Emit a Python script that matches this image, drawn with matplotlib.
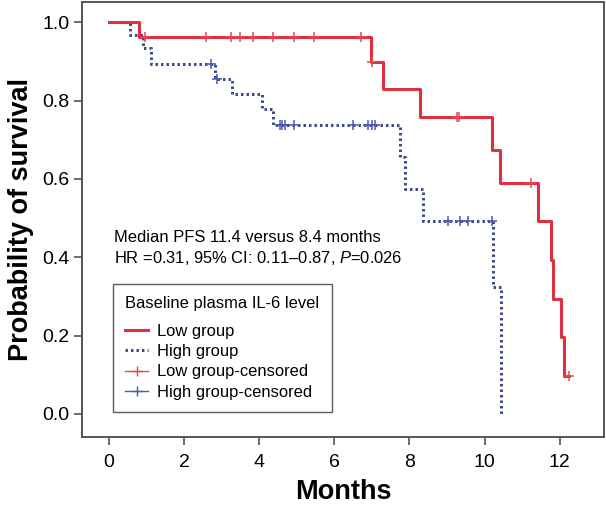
import numpy as np
import matplotlib
matplotlib.use("Agg")
import matplotlib.pyplot as plt
from matplotlib.lines import Line2D

plt.rcParams['font.family'] = ['Liberation Sans', 'DejaVu Sans']
plt.rcParams['mathtext.fontset'] = 'custom'
plt.rcParams['mathtext.rm'] = 'Liberation Sans'
plt.rcParams['mathtext.it'] = 'Liberation Sans:italic'

# Kaplan-Meier steps
low_t = [0, 0.8, 6.97, 7.31, 8.29, 10.2, 10.41, 11.42, 11.77, 11.83, 12.03, 12.11, 12.25]
low_s = [1.0, 0.962, 0.898, 0.829, 0.759, 0.674, 0.590, 0.492, 0.392, 0.294, 0.196, 0.097, 0.097]
low_cens = [0.95, 2.58, 3.25, 3.49, 3.83, 4.36, 4.93, 5.46, 6.70, 7.0, 9.26, 9.33, 11.23, 12.25]

high_t = [0, 0.56, 0.9, 1.12, 2.82, 3.29, 4.07, 4.37, 7.75, 7.88, 8.35, 10.23, 10.44]
high_s = [1.0, 0.968, 0.935, 0.893, 0.856, 0.817, 0.779, 0.738, 0.657, 0.575, 0.493, 0.325, 0.0]
high_cens = [2.71, 2.87, 4.55, 4.62, 4.69, 4.93, 6.51, 6.9, 7.0, 7.08, 9.03, 9.35, 9.55, 10.21]

xticks = [0, 2, 4, 6, 8, 10, 12]
yticks = [0.0, 0.2, 0.4, 0.6, 0.8, 1.0]

red = '#e0303f'
blue = '#3d4a85'


def surv_at(times, surv, t):
    i = np.searchsorted(times, t, side='right') - 1
    return np.array(surv)[i]


fig = plt.figure(figsize=(6.06, 5.05), dpi=100)
ax = fig.add_axes([0.136, 0.134, 0.86, 0.862])

ax.step(low_t, low_s, where='post', color=red, lw=2.2, zorder=3)
ax.step(high_t, high_s, where='post', color=blue, lw=2.2, ls=(0, (0.8, 1.0)), zorder=2)
ax.plot(low_cens, surv_at(low_t, low_s, low_cens), '+', color='#e04a55', ms=7, mew=1.1, zorder=4)
ax.plot(high_cens, surv_at(high_t, high_s, high_cens), '+', color='#4a5ab5', ms=7, mew=1.1, zorder=4)

ax.set_xlim(-0.705, 13.17)
ax.set_ylim(-0.06, 1.052)
ax.set_xticks(xticks)
ax.set_yticks(yticks)
ax.set_yticklabels(['%.1f' % v for v in yticks])
ax.tick_params(labelsize=14, length=6, width=1.2, color='#555555', direction='out')
ax.tick_params(axis='x', pad=6)
for s in ax.spines.values():
    s.set_color('#555555')
    s.set_linewidth(1.4)

ax.set_xlabel('Months', fontsize=19.5, fontweight='bold', labelpad=6)
ax.set_ylabel('Probability of survival', fontsize=19.5, fontweight='bold', labelpad=6)

ax.text(0.13, 0.45, 'Median PFS 11.4 versus 8.4 months', fontsize=11.9, va='center')
ax.text(0.13, 0.398, 'HR =0.31, 95% CI: 0.11\u20130.87, $P$=0.026', fontsize=11.9, va='center')

handles = [
    Line2D([], [], color=red, lw=2.2),
    Line2D([], [], color=blue, lw=2.2, ls=(0, (0.8, 1.0))),
    Line2D([], [], color='#e04a55', marker='+', ms=7, lw=1),
    Line2D([], [], color='#4a5ab5', marker='+', ms=7, lw=1),
]
labels = ['Low group', 'High group', 'Low group-censored', 'High group-censored']
leg = ax.legend(handles, labels, title='Baseline plasma IL-6 level', loc='lower left',
                bbox_to_anchor=(0.058, 0.058), borderaxespad=0, fontsize=11.9,
                title_fontsize=11.9, fancybox=False, edgecolor='#333333',
                handlelength=1.4, handletextpad=0.55, labelspacing=0.32,
                borderpad=0.75, alignment='left')
leg.get_frame().set_linewidth(1.0)
leg._legend_box.sep = 9

fig.savefig('out.png', dpi=100)
